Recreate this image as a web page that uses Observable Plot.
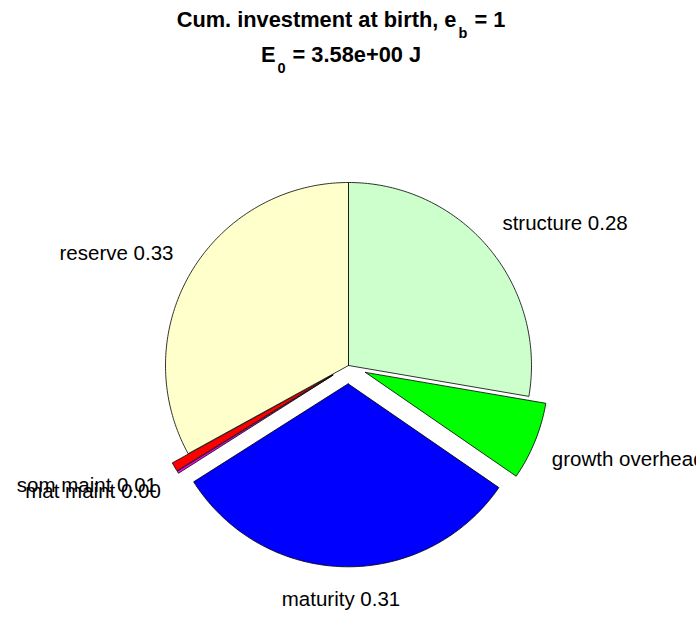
<!DOCTYPE html>
<html>
<head>
<meta charset="utf-8">
<script src="https://cdn.jsdelivr.net/npm/d3@7"></script>
<script src="https://cdn.jsdelivr.net/npm/@observablehq/plot@0.6"></script>
<style>
html,body{margin:0;padding:0;background:#fff;overflow:hidden;width:696px;height:618px}
#title{position:relative;height:80px;font:bold 21.8px "Liberation Sans",Arial,Helvetica,sans-serif;color:#000}
.tl{position:absolute;left:-7px;width:100%;text-align:center;line-height:21px;white-space:nowrap}
.sub{font-size:14.5px;position:relative;top:11px;margin-left:2px;margin-right:1px}
#chart svg{display:block}
</style>
</head>
<body>
<div id="title">
  <div class="tl" style="top:9px">Cum. investment at birth, e<span class="sub">b</span> = 1</div>
  <div class="tl" style="top:44px">E<span class="sub">0</span> = 3.58e+00 J</div>
</div>
<div id="chart"></div>
<script>
// ---- data ----
const sliceNames = ["structure", "growth overhead", "maturity", "mat maint", "som maint", "reserve"];
const fractions  = [0.277, 0.069, 0.314, 0.002, 0.008, 0.330];
const sliceColors = ["#ccffcc", "#00ff00", "#0000ff", "#ff00ff", "#ff0000", "#ffffcc"];
const exploded = [false, true, true, true, true, false];

// ---- layout ----
const W = 696, H = 538, CX = 348, CY = 285, R = 183;
const xDomain = [-CX / R, (W - CX) / R];
const yDomain = [-(H - CY) / R, CY / R];

const wedges = [];
const labels = [];
let cum = 0;
fractions.forEach((f, i) => {
  const a0 = cum * 2 * Math.PI, a1 = (cum + f) * 2 * Math.PI, mid = (a0 + a1) / 2;
  cum += f;
  const ox = exploded[i] ? 0.1 * Math.sin(mid) : 0;
  const oy = exploded[i] ? 0.1 * Math.cos(mid) : 0;
  const n = Math.max(2, Math.ceil(f * 360));
  const pts = [{x: ox, y: oy}];
  for (let k = 0; k <= n; k++) {
    const a = a0 + (a1 - a0) * k / n;
    pts.push({x: ox + Math.sin(a), y: oy + Math.cos(a)});
  }
  pts.push({x: ox, y: oy});
  wedges.push(pts);
  const lx = ox + 1.2 * Math.sin(mid), ly = oy + 1.2 * Math.cos(mid);
  labels.push({text: `${sliceNames[i]} ${fractions[i].toFixed(2)}`, x: lx, y: ly});
});

const marks = [];
wedges.forEach((pts, i) => {
  marks.push(Plot.line(pts, {x: "x", y: "y", fill: sliceColors[i], stroke: "#000", strokeWidth: 0.8, curve: "linear", strokeLinejoin: "miter"}));
});
labels.forEach((d) => {
  const anchor = Math.abs(d.x) < 0.15 ? "middle" : (d.x > 0 ? "start" : "end");
  const lowerRight = d.y < -0.3 && d.x > 0;
  const dx = anchor === "start" ? (lowerRight ? -17 : -14) : anchor === "end" ? 14 : -3;
  const dy = anchor === "middle" ? -4 : (lowerRight ? 4 : 0);
  marks.push(Plot.text([d], {x: "x", y: "y", text: "text", textAnchor: anchor, lineAnchor: "middle", dx, dy, fontSize: 20.5, fill: "#000"}));
});

const chart = Plot.plot({
  width: W, height: H,
  margin: 0,
  x: {domain: xDomain, axis: null},
  y: {domain: yDomain, axis: null},
  style: {fontFamily: "'Liberation Sans', Arial, Helvetica, sans-serif", background: "#fff", overflow: "hidden"},
  marks
});
document.getElementById("chart").appendChild(chart);
</script>
</body>
</html>
